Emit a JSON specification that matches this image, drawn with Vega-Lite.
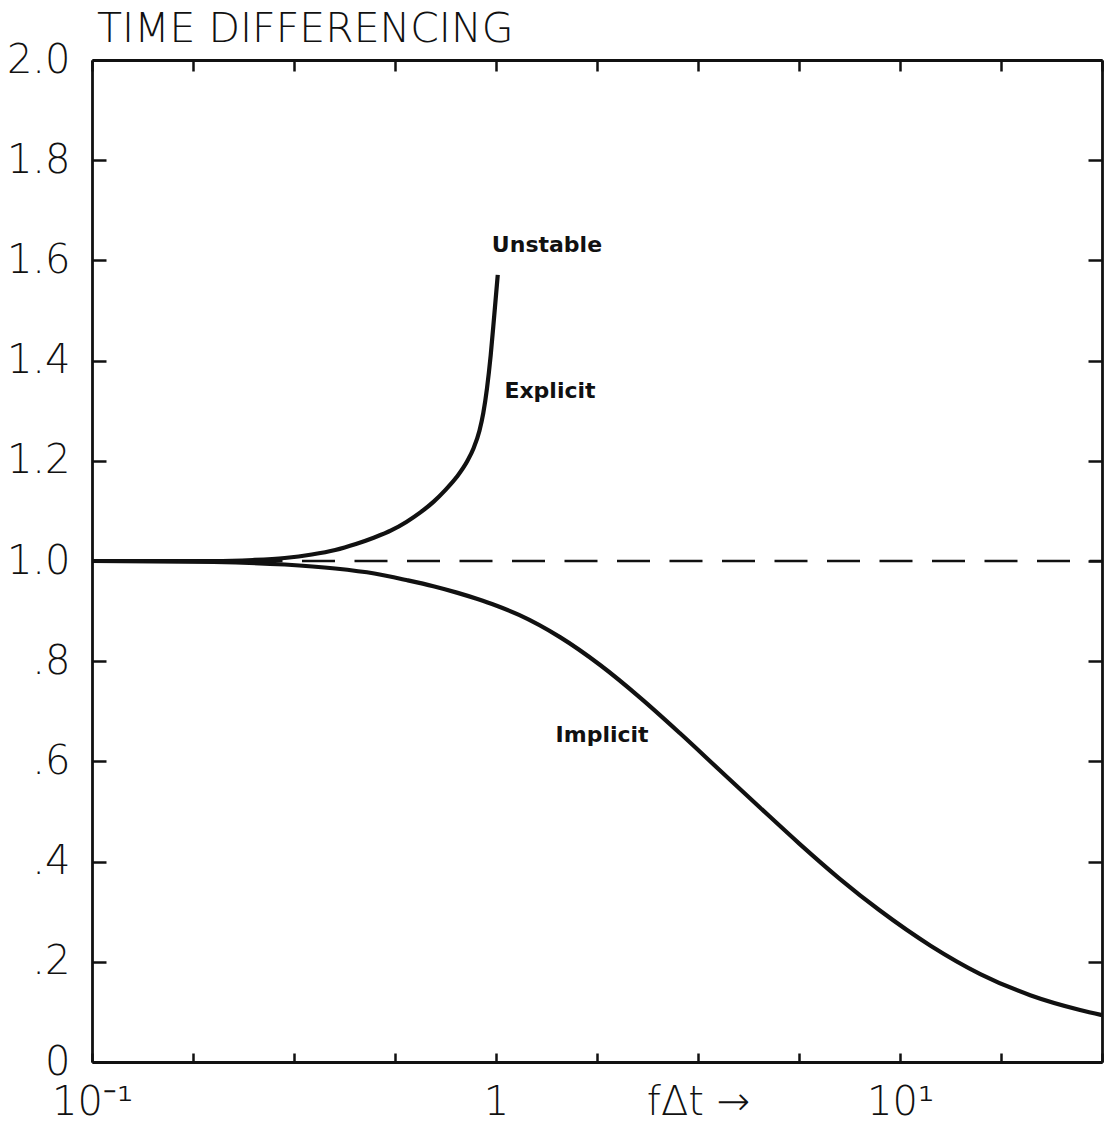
{
  "$schema": "https://vega.github.io/schema/vega-lite/v6.json",
  "autosize": "none",
  "width": 1010,
  "height": 1002,
  "padding": {"left": 92, "top": 60, "right": 3, "bottom": 69},
  "background": "white",
  "title": {"text": "TIME DIFFERENCING", "anchor": "start", "frame": "group", "dx": 5, "offset": -11, "font": "DejaVu Sans", "fontSize": 41, "fontWeight": 200, "color": "#111"},
  "config": {"view": {"stroke": null}},
  "datasets": {
    "curves": [
      {"f": 0.1, "v": 1.0, "s": "Implicit"},
      {"f": 0.2, "v": 0.998, "s": "Implicit"},
      {"f": 0.3, "v": 0.993, "s": "Implicit"},
      {"f": 0.4, "v": 0.985, "s": "Implicit"},
      {"f": 0.5, "v": 0.975, "s": "Implicit"},
      {"f": 0.6, "v": 0.962, "s": "Implicit"},
      {"f": 0.7, "v": 0.9497, "s": "Implicit"},
      {"f": 0.8, "v": 0.9369, "s": "Implicit"},
      {"f": 0.9, "v": 0.9241, "s": "Implicit"},
      {"f": 1.0, "v": 0.9112, "s": "Implicit"},
      {"f": 1.14, "v": 0.8924, "s": "Implicit"},
      {"f": 1.44, "v": 0.848, "s": "Implicit"},
      {"f": 1.81, "v": 0.7924, "s": "Implicit"},
      {"f": 2.28, "v": 0.7264, "s": "Implicit"},
      {"f": 2.85, "v": 0.6566, "s": "Implicit"},
      {"f": 3.58, "v": 0.5823, "s": "Implicit"},
      {"f": 4.5, "v": 0.508, "s": "Implicit"},
      {"f": 5.64, "v": 0.4355, "s": "Implicit"},
      {"f": 7.08, "v": 0.3662, "s": "Implicit"},
      {"f": 8.9, "v": 0.3028, "s": "Implicit"},
      {"f": 11.9, "v": 0.2322, "s": "Implicit"},
      {"f": 15.8, "v": 0.1756, "s": "Implicit"},
      {"f": 21.0, "v": 0.1334, "s": "Implicit"},
      {"f": 27.9, "v": 0.1039, "s": "Implicit"},
      {"f": 31.62, "v": 0.0936, "s": "Implicit"},
      {"f": 0.1, "v": 1.0, "s": "Explicit"},
      {"f": 0.2, "v": 1.0, "s": "Explicit"},
      {"f": 0.25, "v": 1.002, "s": "Explicit"},
      {"f": 0.3, "v": 1.006, "s": "Explicit"},
      {"f": 0.35, "v": 1.013, "s": "Explicit"},
      {"f": 0.4, "v": 1.022, "s": "Explicit"},
      {"f": 0.45, "v": 1.034, "s": "Explicit"},
      {"f": 0.5, "v": 1.047, "s": "Explicit"},
      {"f": 0.55, "v": 1.061, "s": "Explicit"},
      {"f": 0.6, "v": 1.078, "s": "Explicit"},
      {"f": 0.65, "v": 1.097, "s": "Explicit"},
      {"f": 0.7, "v": 1.118, "s": "Explicit"},
      {"f": 0.75, "v": 1.142, "s": "Explicit"},
      {"f": 0.8, "v": 1.168, "s": "Explicit"},
      {"f": 0.85, "v": 1.2, "s": "Explicit"},
      {"f": 0.88, "v": 1.225, "s": "Explicit"},
      {"f": 0.91, "v": 1.26, "s": "Explicit"},
      {"f": 0.93, "v": 1.295, "s": "Explicit"},
      {"f": 0.95, "v": 1.345, "s": "Explicit"},
      {"f": 0.97, "v": 1.41, "s": "Explicit"},
      {"f": 0.99, "v": 1.49, "s": "Explicit"},
      {"f": 1.01, "v": 1.571, "s": "Explicit"}
    ],
    "labels": [
      {"f": 1.337, "v": 1.631, "t": "Unstable"},
      {"f": 1.36, "v": 1.339, "t": "Explicit"},
      {"f": 1.83, "v": 0.653, "t": "Implicit"}
    ],
    "ref": [{"f": 0.1, "f2": 31.62, "v": 1.0}]
  },
  "resolve": {"axis": {"x": "independent", "y": "independent"}},
  "layer": [
    {
      "data": {"name": "curves"},
      "mark": {"type": "line", "color": "#111", "strokeWidth": 4.2, "interpolate": "monotone"},
      "encoding": {
        "x": {"field": "f", "type": "quantitative",
          "scale": {"type": "log", "domain": [0.1, 31.62], "nice": false, "zero": false},
          "axis": {"orient": "bottom", "title": null, "grid": false,
            "values": [0.1, 0.17783, 0.31623, 0.56234, 1, 1.77828, 3.16228, 5.62341, 10, 17.7828, 31.62],
            "labelExpr": "abs(datum.value-0.1)<0.001 ? '10⁻¹' : abs(datum.value-1)<0.001 ? '1' : abs(datum.value-10)<0.01 ? '10¹' : abs(datum.value-3.16228)<0.01 ? 'fΔt →' : ''",
            "labelFont": "DejaVu Sans", "labelFontSize": 40, "labelFontWeight": 200, "labelColor": "#111",
            "labelPadding": 29, "labelBaseline": "top", "labelOverlap": false, "labelFlush": false, "labelBound": false,
            "tickSize": -9, "tickWidth": 2.5, "tickColor": "#111",
            "domainWidth": 2.8, "domainColor": "#111"}},
        "y": {"field": "v", "type": "quantitative",
          "scale": {"domain": [0, 2], "nice": false, "zero": false},
          "axis": {"orient": "left", "title": null, "grid": false,
            "values": [0, 0.2, 0.4, 0.6, 0.8, 1.0, 1.2, 1.4, 1.6, 1.8, 2.0],
            "labelExpr": "datum.value < 0.01 ? '0' : datum.value < 0.99 ? replace(format(datum.value, '.1f'), '0.', '.') : format(datum.value, '.1f')",
            "labelFont": "DejaVu Sans", "labelFontSize": 40, "labelFontWeight": 200, "labelColor": "#111",
            "labelPadding": 36, "labelOverlap": false, "labelFlush": false, "labelBound": false,
            "tickSize": -14, "tickWidth": 2.5, "tickColor": "#111",
            "domainWidth": 2.8, "domainColor": "#111"}},
        "detail": {"field": "s"}
      }
    },
    {
      "data": {"name": "ref"},
      "mark": {"type": "rule", "color": "#111", "strokeWidth": 2.6, "strokeDash": [33, 19.5]},
      "encoding": {
        "x": {"field": "f", "type": "quantitative",
          "axis": {"orient": "top", "title": null, "grid": false, "labels": false,
            "values": [0.1, 0.17783, 0.31623, 0.56234, 1, 1.77828, 3.16228, 5.62341, 10, 17.7828, 31.62],
            "tickSize": -11, "tickWidth": 2.5, "tickColor": "#111",
            "domainWidth": 2.8, "domainColor": "#111"}},
        "x2": {"field": "f2"},
        "y": {"field": "v", "type": "quantitative",
          "axis": {"orient": "right", "title": null, "grid": false, "labels": false,
            "values": [0, 0.2, 0.4, 0.6, 0.8, 1.0, 1.2, 1.4, 1.6, 1.8, 2.0],
            "tickSize": -14, "tickWidth": 2.5, "tickColor": "#111",
            "domainWidth": 2.8, "domainColor": "#111"}}
      }
    },
    {
      "data": {"name": "labels"},
      "mark": {"type": "text", "font": "DejaVu Sans", "fontSize": 22, "fontWeight": "bold", "color": "#111", "align": "center", "baseline": "middle"},
      "encoding": {
        "x": {"field": "f", "type": "quantitative", "axis": null},
        "y": {"field": "v", "type": "quantitative", "axis": null},
        "text": {"field": "t"}
      }
    }
  ]
}
